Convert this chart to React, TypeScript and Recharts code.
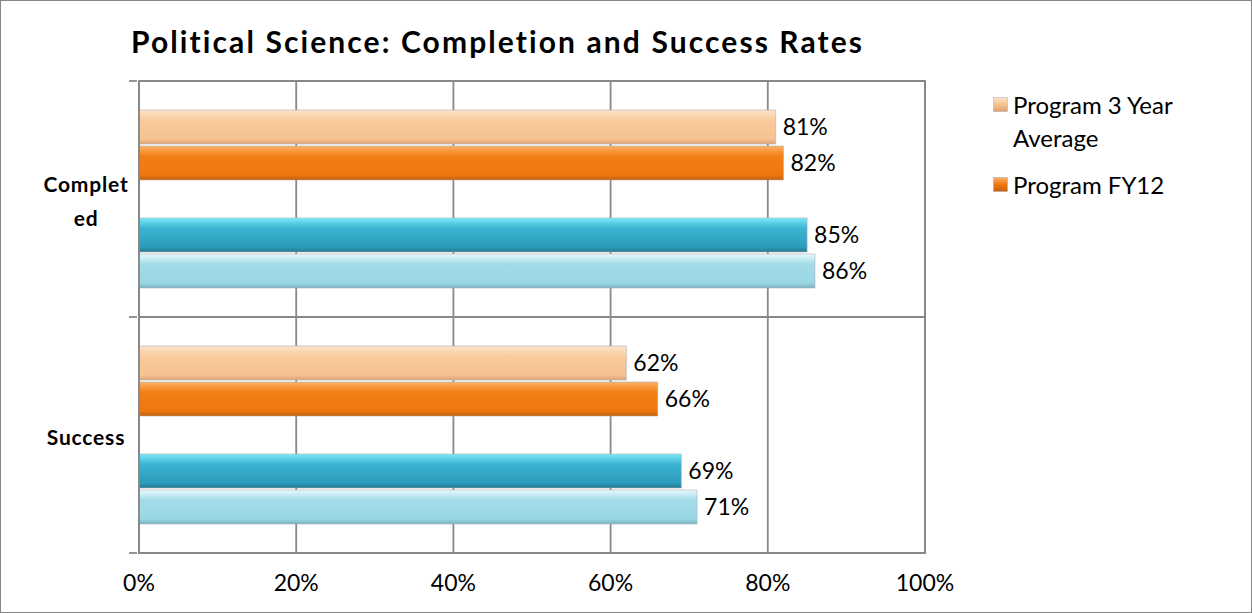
import { BarChart, Bar, XAxis, YAxis, CartesianGrid, LabelList, ReferenceArea } from 'recharts';

const categories = ['Completed', 'Success'];
const program3YearAverage = [81, 62];
const programFY12 = [82, 66];
const collegeFY12 = [85, 69];
const college3YearAverage = [86, 71];
const xTicks = [0, 20, 40, 60, 80, 100];

const legendItems = [
    { name: 'Program 3 Year Average', lines: ['Program 3 Year', 'Average'], from: '#FDE3C8', mid: '#F6C291', to: '#D9A06E' },
    { name: 'Program FY12', lines: ['Program FY12'], from: '#FBB266', mid: '#EE7710', to: '#C65F0A' },
];

const data = categories.map((c, i) => ({
    category: c,
    p3: program3YearAverage[i],
    pfy: programFY12[i],
    spacer: null,
    cfy: collegeFY12[i],
    c3: college3YearAverage[i],
}));

const FONT = 'Lato, "Open Sans", sans-serif';
const GRID = '#888888';

const CategoryTick = (props: any) => {
    const { x, y, payload } = props;
    const half = payload.offset || 0;
    const text: string = payload.value;
    const lines = text.length > 8 ? [text.slice(0, 7), text.slice(7)] : [text];
    const startY = y - ((lines.length - 1) * 34) / 2 + 5;
    return (
        <g>
            <line x1={x - 2} x2={x + 6} y1={y + half} y2={y + half} stroke={GRID} strokeWidth={1.8} />
            {payload.index === 0 && <line x1={x - 2} x2={x + 6} y1={y - half} y2={y - half} stroke={GRID} strokeWidth={1.8} />}
            <text x={x - 45} y={startY} textAnchor="middle" dominantBaseline="middle" fontFamily={FONT} fontWeight={700} fontSize={21} letterSpacing={0.8} fill="#000">
                {lines.map((l, i) => (
                    <tspan key={i} x={x - 45} dy={i === 0 ? 0 : 34}>{l}</tspan>
                ))}
            </text>
        </g>
    );
};

const LegendBox = () => (
    <div style={{ position: 'absolute', left: 992, top: 87, fontFamily: FONT, fontSize: 24, color: '#000' }}>
        {legendItems.map((item, idx) => (
            <div key={item.name} style={{ display: 'flex', alignItems: 'flex-start', marginBottom: 14 }}>
                <svg width={15} height={15} style={{ marginTop: 9, marginRight: 5, flexShrink: 0 }}>
                    <defs>
                        <linearGradient id={`legGrad${idx}`} x1="0" y1="0" x2="0" y2="1">
                            <stop offset="0%" stopColor={item.from} />
                            <stop offset="50%" stopColor={item.mid} />
                            <stop offset="100%" stopColor={item.to} />
                        </linearGradient>
                    </defs>
                    <rect x={0.5} y={0.5} width={14} height={14} fill={`url(#legGrad${idx})`} stroke="#aaa" strokeWidth={0.5} />
                </svg>
                <div style={{ lineHeight: '33px' }}>
                    {item.lines.map((l) => (
                        <div key={l}>{l}</div>
                    ))}
                </div>
            </div>
        ))}
    </div>
);

const pct = (v: any) => (v == null ? '' : `${v}%`);

export default function App() {
    return (
        <div style={{ position: 'absolute', left: 0, top: 0, width: 1252, height: 613, background: '#fff', boxSizing: 'border-box', border: '1px solid #868686' }}>
            <div style={{ position: 'absolute', left: 130, top: 22, fontFamily: FONT, fontWeight: 700, fontSize: 30, letterSpacing: 2.1, color: '#000', whiteSpace: 'nowrap' }}>
                Political Science: Completion and Success Rates
            </div>
            <BarChart
                width={1250}
                height={611}
                data={data}
                layout="vertical"
                margin={{ top: 80, right: 326, bottom: 19, left: 0 }}
                barCategoryGap={29}
                barGap={2}
                style={{ position: 'absolute', left: 0, top: 0 }}
            >
                <defs>
                    <linearGradient id="lightOrangeBar" x1="0" y1="0" x2="0" y2="1">
                        <stop offset="0%" stopColor="#FDE3C8" />
                        <stop offset="30%" stopColor="#FACB9E" />
                        <stop offset="85%" stopColor="#F6C291" />
                        <stop offset="100%" stopColor="#DDA576" />
                    </linearGradient>
                    <linearGradient id="orangeBar" x1="0" y1="0" x2="0" y2="1">
                        <stop offset="0%" stopColor="#FBB266" />
                        <stop offset="30%" stopColor="#F27E16" />
                        <stop offset="85%" stopColor="#EE7710" />
                        <stop offset="100%" stopColor="#C65F0A" />
                    </linearGradient>
                    <linearGradient id="tealBar" x1="0" y1="0" x2="0" y2="1">
                        <stop offset="0%" stopColor="#7BEAFA" />
                        <stop offset="30%" stopColor="#3BB3D2" />
                        <stop offset="85%" stopColor="#2C9CBB" />
                        <stop offset="100%" stopColor="#227A92" />
                    </linearGradient>
                    <linearGradient id="lightBlueBar" x1="0" y1="0" x2="0" y2="1">
                        <stop offset="0%" stopColor="#E6FAFE" />
                        <stop offset="30%" stopColor="#A3DCE9" />
                        <stop offset="85%" stopColor="#9AD6E4" />
                        <stop offset="100%" stopColor="#79B4C3" />
                    </linearGradient>
                </defs>
                <CartesianGrid
                    stroke={GRID}
                    strokeWidth={1.8}
                    horizontalCoordinatesGenerator={({ offset }: any) => [offset.top, offset.top + offset.height / 2, offset.top + offset.height]}
                />
                <ReferenceArea x1={0} x2={100} fill="none" stroke={GRID} strokeWidth={1.8} ifOverflow="visible" />
                <XAxis
                    type="number"
                    domain={[0, 100]}
                    ticks={xTicks}
                    tickFormatter={pct}
                    axisLine={{ stroke: GRID, strokeWidth: 1.8 }}
                    tickLine={false}
                    tickMargin={16}
                    height={40}
                    tick={{ fontFamily: FONT, fontSize: 23, fill: '#000' }}
                />
                <YAxis
                    type="category"
                    dataKey="category"
                    width={138}
                    axisLine={{ stroke: GRID, strokeWidth: 1.8 }}
                    tickLine={false}
                    tick={<CategoryTick />}
                />
                <Bar dataKey="p3" name="Program 3 Year Average" fill="url(#lightOrangeBar)" stroke="#B0B0B0" strokeWidth={0.6} isAnimationActive={false}>
                    <LabelList dataKey="p3" position="right" offset={7} formatter={pct} fill="#000" fontSize={23} fontFamily={FONT} />
                </Bar>
                <Bar dataKey="pfy" name="Program FY12" fill="url(#orangeBar)" stroke="#B0B0B0" strokeWidth={0.6} isAnimationActive={false}>
                    <LabelList dataKey="pfy" position="right" offset={7} formatter={pct} fill="#000" fontSize={23} fontFamily={FONT} />
                </Bar>
                <Bar dataKey="spacer" legendType="none" isAnimationActive={false} />
                <Bar dataKey="cfy" name="College FY12" fill="url(#tealBar)" stroke="#B0B0B0" strokeWidth={0.6} isAnimationActive={false}>
                    <LabelList dataKey="cfy" position="right" offset={7} formatter={pct} fill="#000" fontSize={23} fontFamily={FONT} />
                </Bar>
                <Bar dataKey="c3" name="College 3 Year Average" fill="url(#lightBlueBar)" stroke="#B0B0B0" strokeWidth={0.6} isAnimationActive={false}>
                    <LabelList dataKey="c3" position="right" offset={7} formatter={pct} fill="#000" fontSize={23} fontFamily={FONT} />
                </Bar>
            </BarChart>
            <LegendBox />
        </div>
    );
}
